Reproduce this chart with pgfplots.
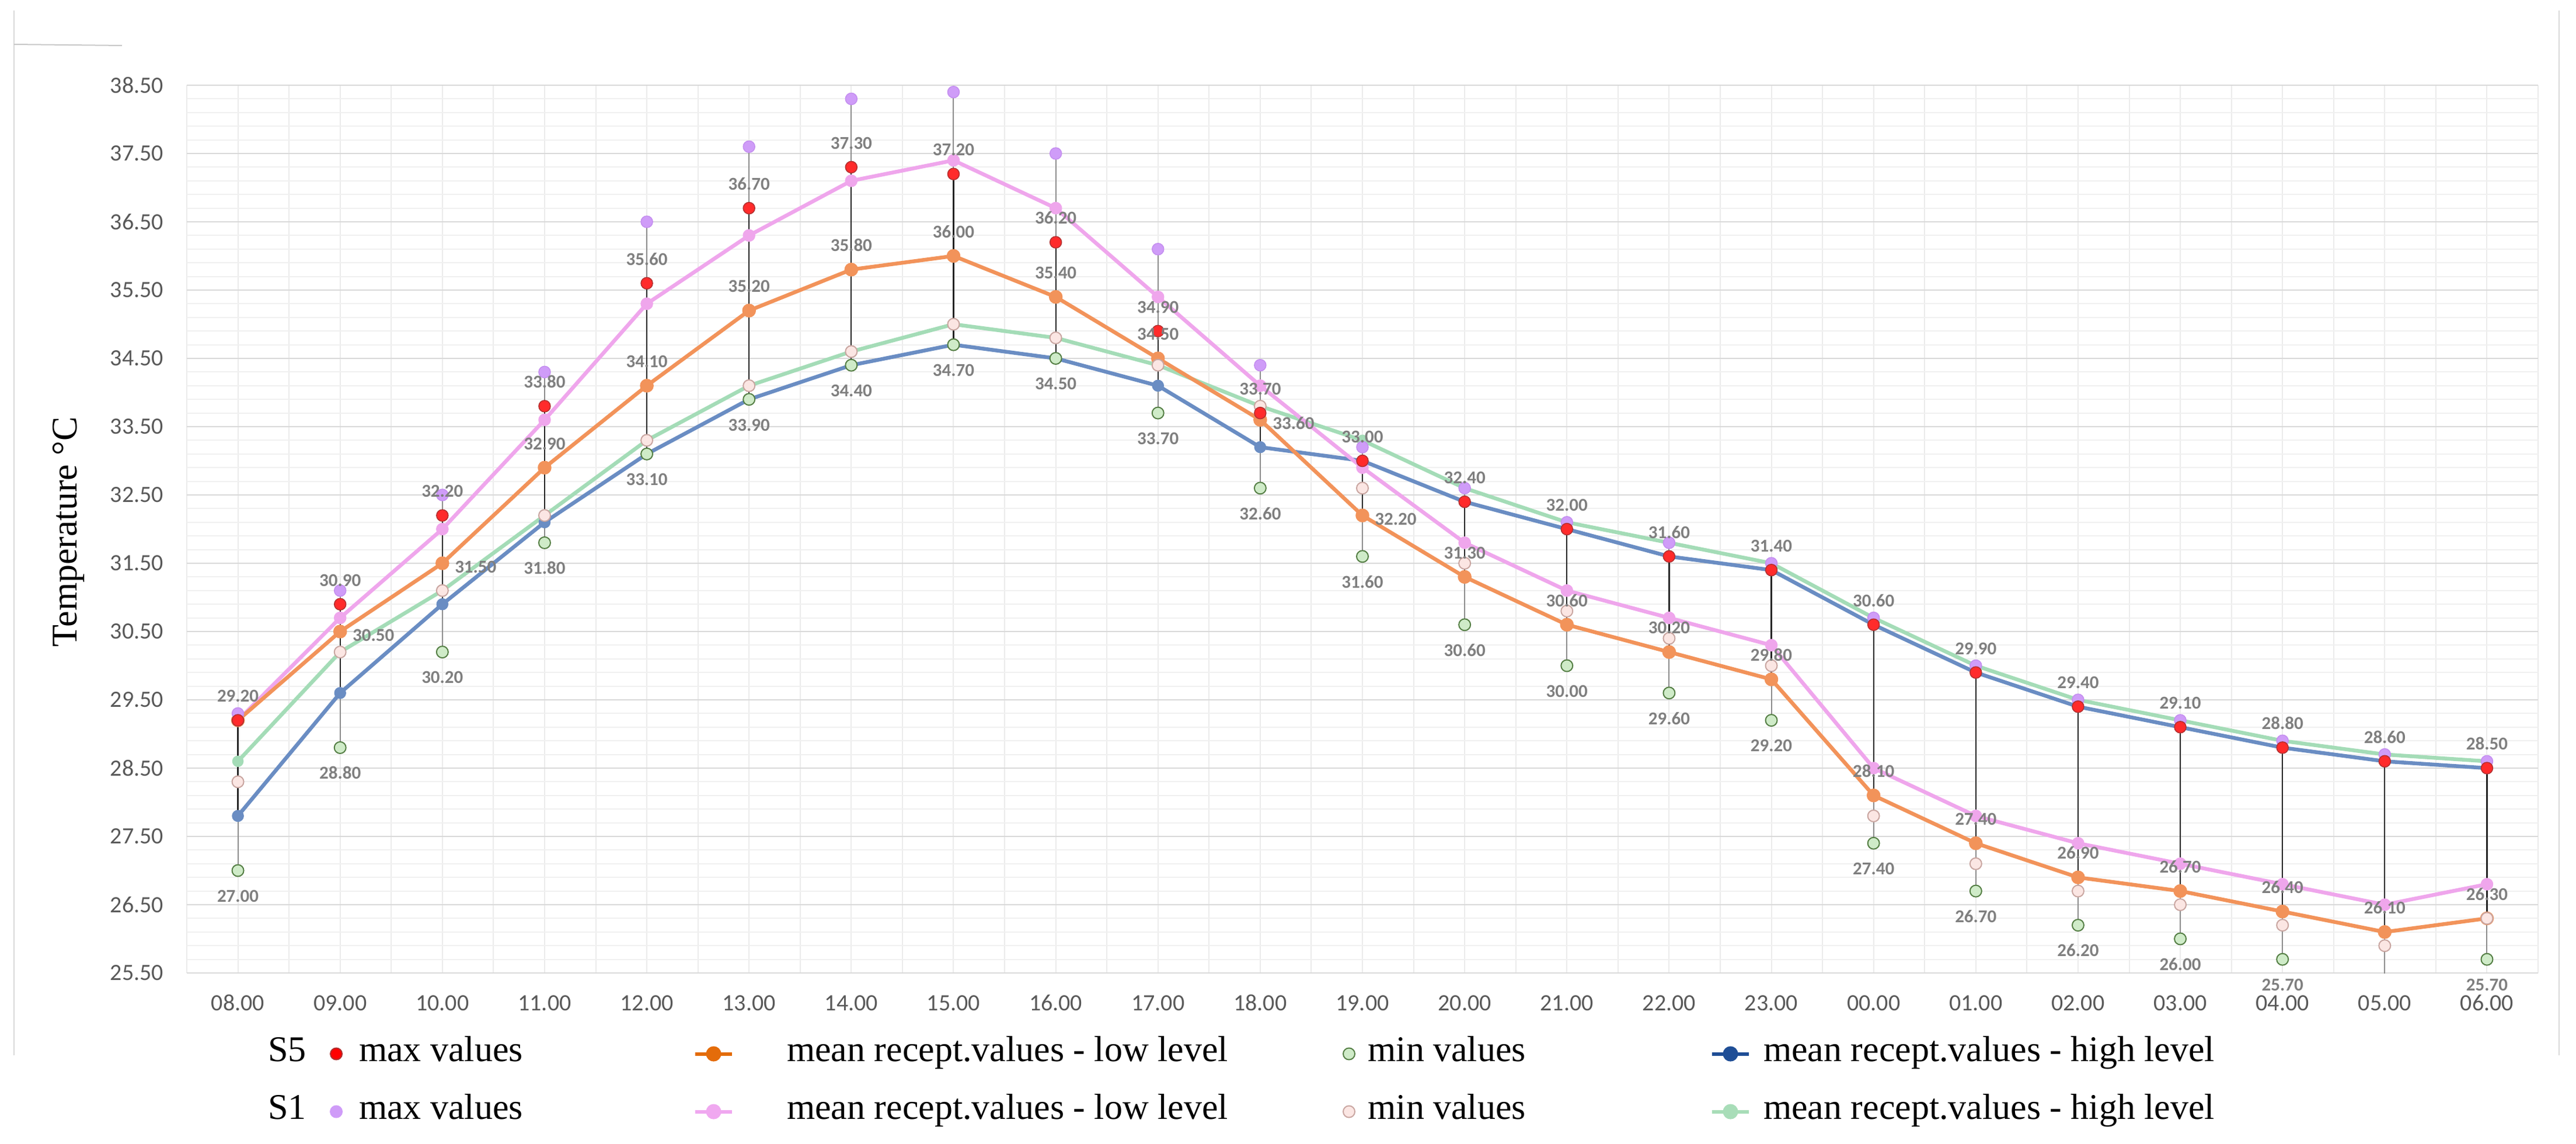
\documentclass[border=0pt]{standalone}
\usepackage{fontspec}
\setmainfont{Carlito}
\newfontfamily\serif{Liberation Serif}
\usepackage{pgfplots}
\pgfplotsset{compat=1.18}
\usepackage{pgfplotstable}

\definecolor{gridmaj}{HTML}{D9D9D9}
\definecolor{gridmin}{HTML}{F0F0F0}
\definecolor{gridv}{HTML}{EBEBEB}
\definecolor{ticklab}{HTML}{595959}
\definecolor{datalab}{HTML}{7F7F7F}
\definecolor{hlblack}{HTML}{262626}
\definecolor{hlgray}{HTML}{8C8C8C}
\definecolor{redmax}{HTML}{FF2B2B}
\definecolor{redmaxed}{HTML}{B03030}
\definecolor{purmax}{HTML}{CF9CF8}
\definecolor{purmaxed}{HTML}{C48EEF}
\definecolor{grnmin}{HTML}{CFEBC8}
\definecolor{grnmined}{HTML}{557F45}
\definecolor{pnkmin}{HTML}{FBE6E3}
\definecolor{pnkmined}{HTML}{C9A6A1}
\definecolor{orline}{HTML}{F2935A}
\definecolor{blline}{HTML}{6A8DC3}
\definecolor{pkline}{HTML}{EFA6EC}
\definecolor{gnline}{HTML}{A4DCB7}
\definecolor{legor}{HTML}{E46C0A}
\definecolor{legbl}{HTML}{1F4E96}
\definecolor{leggn}{HTML}{A8DDB8}
\definecolor{legpk}{HTML}{F0A8F0}
\definecolor{borderc}{HTML}{D9D9D9}

\newcommand\legfont{\serif\fontsize{12.4}{14}\selectfont}
\newcommand\labfont{\bfseries\fontsize{6.2}{7}\selectfont}

% columns: hour index, S5 max / low mean / min / high mean, S1 the same
\pgfplotstableread{
idx s5max s5low s5min s5high s1max s1low s1min s1high
0  29.20 29.20 27.00 27.80 29.30 29.20 28.30 28.60
1  30.90 30.50 28.80 29.60 31.10 30.70 30.20 30.20
2  32.20 31.50 30.20 30.90 32.50 32.00 31.10 31.10
3  33.80 32.90 31.80 32.10 34.30 33.60 32.20 32.20
4  35.60 34.10 33.10 33.10 36.50 35.30 33.30 33.30
5  36.70 35.20 33.90 33.90 37.60 36.30 34.10 34.10
6  37.30 35.80 34.40 34.40 38.30 37.10 34.60 34.60
7  37.20 36.00 34.70 34.70 38.40 37.40 35.00 35.00
8  36.20 35.40 34.50 34.50 37.50 36.70 34.80 34.80
9  34.90 34.50 33.70 34.10 36.10 35.40 34.40 34.40
10 33.70 33.60 32.60 33.20 34.40 34.10 33.80 33.80
11 33.00 32.20 31.60 33.00 33.20 32.90 32.60 33.30
12 32.40 31.30 30.60 32.40 32.60 31.80 31.50 32.60
13 32.00 30.60 30.00 32.00 32.10 31.10 30.80 32.10
14 31.60 30.20 29.60 31.60 31.80 30.70 30.40 31.80
15 31.40 29.80 29.20 31.40 31.50 30.30 30.00 31.50
16 30.60 28.10 27.40 30.60 30.70 28.50 27.80 30.70
17 29.90 27.40 26.70 29.90 30.00 27.80 27.10 30.00
18 29.40 26.90 26.20 29.40 29.50 27.40 26.70 29.50
19 29.10 26.70 26.00 29.10 29.20 27.10 26.50 29.20
20 28.80 26.40 25.70 28.80 28.90 26.80 26.20 28.90
21 28.60 26.10 25.30 28.60 28.70 26.50 25.90 28.70
22 28.50 26.30 25.70 28.50 28.60 26.80 26.30 28.60
}\data

\begin{document}
\begin{tikzpicture}
\path[use as bounding box] (-64pt,-58.4pt) rectangle (818.6pt,333.4pt);
\begin{axis}[
    at={(0,0)}, anchor=south west,
    scale only axis, width=805.6pt, height=304.2pt,
    xmin=-0.5, xmax=22.5, ymin=25.5, ymax=38.5,
    xtick={0,...,22},
    xticklabels={08.00,09.00,10.00,11.00,12.00,13.00,14.00,15.00,16.00,17.00,18.00,19.00,20.00,21.00,22.00,23.00,00.00,01.00,02.00,03.00,04.00,05.00,06.00},
    minor xtick={-0.5,0.5,...,22.5},
    ytick={25.5,26.5,...,38.5},
    minor y tick num=4,
    grid=both,
    major x grid style={draw=gridv, line width=0.4pt},
    minor x grid style={draw=gridv, line width=0.4pt},
    major y grid style={draw=gridmaj, line width=0.5pt},
    minor y grid style={draw=gridmin, line width=0.4pt},
    axis line style={draw=none},
    tick style={draw=none},
    /pgf/number format/fixed,
    /pgf/number format/fixed zerofill,
    /pgf/number format/precision=2,
    /pgf/number format/assume math mode=true,
    tick label style={font=\fontsize{8}{9.6}\selectfont, text=ticklab},
    yticklabel style={anchor=east, inner sep=0pt, xshift=-7.8pt},
    xticklabel style={anchor=base, inner sep=0pt, yshift=-12.9pt},
    ylabel={Temperature °C},
    ylabel style={at={(axis description cs:-0.04667,0.497)}, anchor=base, font=\legfont, inner sep=0pt},
    legend image code/.code={\path (0pt,-3pt) (12.6pt,3pt);
        \draw[mark repeat=2,mark phase=2,#1] plot coordinates {(0pt,0pt) (6.3pt,0pt) (12.6pt,0pt)};},
    legend columns=4, legend cell align=left,
    legend style={at={(0.05549,-0.0730)}, anchor=north west, draw=none, fill=none,
        inner sep=0pt, outer sep=0pt, row sep=8.8pt, font=\legfont,
        nodes={inner sep=0pt, text height=8pt, text depth=3pt}},
    every axis plot/.append style={line join=round},
]

% high-low lines
\addplot[forget plot, draw=none, error bars/.cd, y dir=minus, y explicit, error mark=none,
    error bar style={draw=hlgray, line width=0.4pt}]
    table[x=idx, y=s1max, y error minus expr={\thisrow{s1max}-\thisrow{s5min}}] {\data};
\addplot[forget plot, draw=none, error bars/.cd, y dir=minus, y explicit, error mark=none,
    error bar style={draw=hlblack, line width=0.45pt}]
    table[x=idx, y=s5max, y error minus expr={\thisrow{s5max}-min(\thisrow{s5low},\thisrow{s5high})}] {\data};

% mean lines
\addplot[forget plot, color=gnline, line width=1.3pt, mark=*, mark size=1.3pt, mark options={fill=gnline, draw=gnline}]
    table[x=idx, y=s1high] {\data};
\addplot[forget plot, color=blline, line width=1.3pt, mark=*, mark size=1.4pt, mark options={fill=blline, draw=blline}]
    table[x=idx, y=s5high] {\data};
\addplot[forget plot, color=pkline, line width=1.3pt, mark=*, mark size=1.5pt, mark options={fill=pkline, draw=pkline}]
    table[x=idx, y=s1low] {\data};
\addplot[forget plot, color=orline, line width=1.3pt, mark=*, mark size=1.7pt, mark options={fill=orline, draw=orline}]
    table[x=idx, y=s5low] {\data};

% min / max markers
\addplot[forget plot, only marks, mark=*, mark size=2pt, mark options={fill=pnkmin, draw=pnkmined, line width=0.4pt}]
    table[x=idx, y=s1min] {\data};
\addplot[forget plot, only marks, mark=*, mark size=2pt, mark options={fill=grnmin, draw=grnmined, line width=0.4pt}]
    table[x=idx, y=s5min] {\data};
\addplot[forget plot, only marks, mark=*, mark size=2pt, mark options={fill=purmax, draw=purmaxed, line width=0.3pt}]
    table[x=idx, y=s1max] {\data};
\addplot[forget plot, only marks, mark=*, mark size=2pt, mark options={fill=redmax, draw=redmaxed, line width=0.3pt}]
    table[x=idx, y=s5max] {\data};

% data labels
\addplot[forget plot, draw=none, point meta=y, nodes near coords,
    nodes near coords style={font=\labfont, text=datalab, inner sep=0pt, yshift=6pt}]
    table[x=idx, y=s5max] {\data};
\addplot[forget plot, draw=none, point meta=y, nodes near coords,
    skip coords between index={21}{22},
    nodes near coords style={font=\labfont, text=datalab, inner sep=0pt, yshift=-11pt}]
    table[x=idx, y=s5min] {\data};
\addplot[forget plot, draw=none, point meta=y, nodes near coords,
    skip coords between index={0}{3}, skip coords between index={10}{12},
    nodes near coords style={font=\labfont, text=datalab, inner sep=0pt, yshift=6pt}]
    table[x=idx, y=s5low] {\data};
\addplot[forget plot, draw=none, point meta=y, nodes near coords,
    skip coords between index={0}{1}, skip coords between index={3}{10}, skip coords between index={12}{23},
    nodes near coords style={font=\labfont, text=datalab, inner sep=0pt, xshift=11.4pt, yshift=-3.5pt}]
    table[x=idx, y=s5low] {\data};

% legend
\addlegendimage{only marks, mark=*, mark size=2pt, mark options={fill=red, draw=redmaxed}}
\addlegendentry{\makebox[115.9pt][l]{\hspace{1.3pt}max values}}
\addlegendimage{legor, line width=1.2pt, mark=*, mark size=2pt}
\addlegendentry{\makebox[204.3pt][l]{\hspace{18.2pt}mean recept.values - low level}}
\addlegendimage{only marks, mark=*, mark size=2pt, mark options={fill=grnmin, draw=grnmined}}
\addlegendentry{\makebox[117.3pt][l]{min values}}
\addlegendimage{legbl, line width=1.2pt, mark=*, mark size=2pt}
\addlegendentry{\makebox[160pt][l]{\hspace{4.4pt}mean recept.values - high level}}
\addlegendimage{only marks, mark=*, mark size=2pt, mark options={fill=purmax, draw=purmax}}
\addlegendentry{\makebox[115.9pt][l]{\hspace{1.3pt}max values}}
\addlegendimage{legpk, line width=1.2pt, mark=*, mark size=2pt}
\addlegendentry{\makebox[204.3pt][l]{\hspace{18.2pt}mean recept.values - low level}}
\addlegendimage{only marks, mark=*, mark size=2pt, mark options={fill=pnkmin, draw=pnkmined}}
\addlegendentry{\makebox[117.3pt][l]{min values}}
\addlegendimage{leggn, line width=1.2pt, mark=*, mark size=2pt}
\addlegendentry{\makebox[160pt][l]{\hspace{4.4pt}mean recept.values - high level}}
\end{axis}

\node[anchor=base east, inner sep=0pt, font=\legfont] at (41.2pt,-30.2pt) {S5};
\node[anchor=base east, inner sep=0pt, font=\legfont] at (41.2pt,-50.0pt) {S1};

% chart frame remnants
\draw[borderc, line width=0.5pt] (-59.2pt,329.8pt) -- (-59.2pt,-28.2pt);
\draw[borderc, line width=0.5pt] (812.8pt,329.8pt) -- (812.8pt,-28.2pt);
\draw[borderc!80!gray, line width=0.4pt] (-59.2pt,318.2pt) -- (-22.2pt,317.8pt);
\end{tikzpicture}
\end{document}
